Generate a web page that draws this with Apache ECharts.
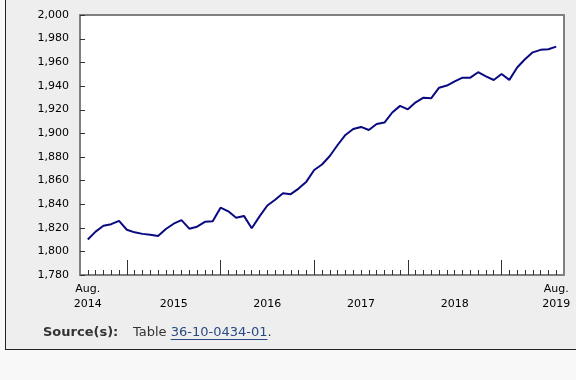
<!DOCTYPE html>
<html>
<head>
<meta charset="utf-8">
<script src="https://cdn.jsdelivr.net/npm/echarts@6/dist/echarts.min.js"></script>
<style>
  html, body { margin: 0; padding: 0; background: #f8f8f8; }
  #panel { position: absolute; left: 5px; top: -2px; width: 600px; height: 352px;
           background: #eeeeee; border: 1px solid #222; box-sizing: border-box; }
  #chart { position: absolute; left: 0; top: 0; width: 576px; height: 380px; }
</style>
</head>
<body>
<div id="panel"></div>
<div id="chart"></div>
<script>
// ---- data ----
const startYear = 2014, startMonth = 8; // Aug. 2014
const values = [
  1810.0, 1816.7, 1821.7, 1823.0, 1825.8, 1818.3, 1816.1, 1814.8, 1814.1, 1813.0,
  1818.9, 1823.4, 1826.4, 1819.2, 1820.9, 1825.0, 1825.4, 1837.0, 1833.9, 1828.5,
  1830.0, 1819.6, 1829.6, 1838.8, 1843.7, 1849.1, 1848.4, 1853.1, 1859.0, 1868.8,
  1873.5, 1880.7, 1890.0, 1898.5, 1903.5, 1905.3, 1902.7, 1907.8, 1909.0, 1917.5,
  1923.1, 1920.2, 1926.1, 1930.0, 1929.6, 1938.5, 1940.3, 1943.9, 1947.0, 1947.0,
  1951.6, 1948.1, 1945.0, 1950.1, 1945.1, 1955.6, 1962.6, 1968.4, 1970.5, 1971.0,
  1973.2
];
const yMin = 1780, yMax = 2000, yStep = 20;
const yTicks = [1780, 1800, 1820, 1840, 1860, 1880, 1900, 1920, 1940, 1960, 1980, 2000];
const yearLabels = ['2015', '2016', '2017', '2018'];
const firstLabel = 'Aug.\n2014';
const lastLabel = 'Aug.\n2019';
const sourceLabel = 'Source(s):';
const tablePrefix = 'Table ';
const tableId = '36-10-0434-01';

// months for each point
const months = values.map((v, i) => {
  const m0 = startMonth - 1 + i;
  return { year: startYear + Math.floor(m0 / 12), month: (m0 % 12) + 1 };
});
const janIdx = months.map((d, i) => d.month === 1 ? i : -1).filter(i => i >= 0);
const lastIdx = values.length - 1;
const xMin = -1, xMax = lastIdx + 1;
const labelPos = {};
labelPos[0] = firstLabel;
yearLabels.forEach(y => {
  const i = months.findIndex(d => d.year === +y && d.month === 7);
  if (i >= 0) labelPos[i] = '\n' + y;
});
labelPos[lastIdx] = lastLabel;
const labelVals = Object.keys(labelPos).map(Number);

const FONT = '"DejaVu Sans", Verdana, sans-serif';
const border = () => ({ show: true, onZero: false, lineStyle: { color: '#808080', width: 2 } });

// measure for underline
const cvs = document.createElement('canvas').getContext('2d');
cvs.font = '13px "DejaVu Sans"';
const prefixW = cvs.measureText(tablePrefix).width;
const idW = cvs.measureText(tableId).width;
const srcX = 133;

const chart = echarts.init(document.getElementById('chart'), null, { renderer: 'canvas' });
chart.setOption({
  backgroundColor: 'transparent',
  animation: false,
  grid: {
    left: 80, right: 12, top: 15, bottom: 105,
    show: true, backgroundColor: '#ffffff', borderWidth: 0
  },
  xAxis: [
    {
      type: 'value', min: xMin, max: xMax, position: 'bottom',
      splitLine: { show: false },
      axisLine: border(),
      axisTick: { show: true, inside: true, length: 5, customValues: values.map((v, i) => i),
                  lineStyle: { color: '#333', width: 1 } },
      axisLabel: {
        customValues: labelVals,
        formatter: v => labelPos[Math.round(v)] || '',
        color: '#000', fontFamily: FONT, fontSize: 11, lineHeight: 15, margin: 7
      }
    },
    {
      type: 'value', min: xMin, max: xMax, position: 'bottom',
      splitLine: { show: false },
      axisLine: { show: false },
      axisTick: { show: true, inside: true, length: 15, customValues: janIdx,
                  lineStyle: { color: '#333', width: 1 } },
      axisLabel: { show: false }
    },
    {
      type: 'value', min: xMin, max: xMax, position: 'top',
      splitLine: { show: false }, axisLine: border(),
      axisTick: { show: false }, axisLabel: { show: false }
    }
  ],
  yAxis: [
    {
      type: 'value', min: yMin, max: yMax, interval: yStep, position: 'left',
      splitLine: { show: false },
      axisLine: border(),
      axisTick: { show: false },
      axisLabel: {
        color: '#000', fontFamily: FONT, fontSize: 11, margin: 11,
        formatter: v => v.toLocaleString('en-US')
      }
    },
    {
      type: 'value', min: yMin, max: yMax, interval: yStep, position: 'right',
      splitLine: { show: false }, axisLine: border(),
      axisTick: { show: false }, axisLabel: { show: false }
    }
  ],
  series: [
    {
      type: 'custom',
      clip: false,
      silent: true,
      data: yTicks.map(v => [xMin, v]),
      renderItem: (params, api) => {
        const p = api.coord([api.value(0), api.value(1)]);
        const y = Math.round(p[1]) + 0.5;
        return {
          type: 'line',
          shape: { x1: p[0], y1: y, x2: p[0] + 5, y2: y },
          style: { stroke: '#333', lineWidth: 1 },
          z2: 10
        };
      },
      xAxisIndex: 0, yAxisIndex: 0
    },
    {
      type: 'line',
      data: values.map((v, i) => [i, v]),
      showSymbol: false,
      lineStyle: { color: '#0a0a80', width: 2 },
      xAxisIndex: 0, yAxisIndex: 0
    }
  ],
  graphic: [
    { type: 'text', left: 43, top: 334 - 8,
      style: { text: sourceLabel, font: 'bold 13px "DejaVu Sans"', fill: '#333' } },
    { type: 'text', left: srcX, top: 334 - 8,
      style: { text: tablePrefix, font: '13px "DejaVu Sans"', fill: '#333' } },
    { type: 'text', left: srcX + prefixW, top: 334 - 8,
      style: { text: tableId, font: '13px "DejaVu Sans"', fill: '#284a80' } },
    { type: 'text', left: srcX + prefixW + idW, top: 334 - 8,
      style: { text: '.', font: '13px "DejaVu Sans"', fill: '#333' } },
    { type: 'line', shape: { x1: srcX + prefixW, y1: 339.5, x2: srcX + prefixW + idW, y2: 339.5 },
      style: { stroke: '#284a80', lineWidth: 1 } }
  ]
});
</script>
</body>
</html>
